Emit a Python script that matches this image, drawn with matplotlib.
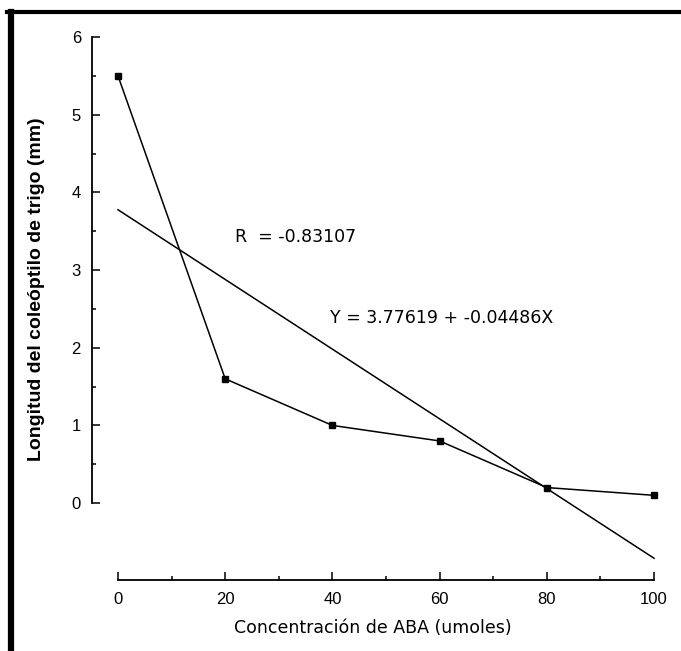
import matplotlib.pyplot as plt
from matplotlib.lines import Line2D

aba = [0, 20, 40, 60, 80, 100]
longitud = [5.5, 1.6, 1.0, 0.8, 0.2, 0.1]
intercept = 3.77619
slope = -0.04486
r_value = -0.83107

x_major = [0, 20, 40, 60, 80, 100]
x_minor = [10, 30, 50, 70, 90]
y_major = [0, 1, 2, 3, 4, 5, 6]
y_minor = [0.5, 1.5, 2.5, 3.5, 4.5, 5.5]

plt.rcParams['font.family'] = ['Liberation Sans', 'DejaVu Sans']

fig = plt.figure(figsize=(6.81, 6.51), dpi=100)
ax = fig.add_axes([92 / 681, 71 / 651, (654 - 92) / 681, (580 - 37) / 651])

ax.plot(aba, longitud, color='black', lw=1.1, marker='s', ms=5, clip_on=False)
fit_x = [aba[0], aba[-1]]
fit_y = [intercept + slope * x for x in fit_x]
ax.plot(fit_x, fit_y, color='black', lw=1.1, clip_on=False)

ax.set_xlim(-4.85, 100)
ax.set_ylim(-0.99, 6)
ax.spines['top'].set_visible(False)
ax.spines['right'].set_visible(False)
ax.spines['left'].set_bounds(0, 6)
ax.spines['bottom'].set_bounds(0, 100)
for s in ('left', 'bottom'):
    ax.spines[s].set_linewidth(1.3)

ax.set_xticks(x_major)
ax.set_xticks(x_minor, minor=True)
ax.set_yticks(y_major)
ax.set_yticks(y_minor, minor=True)
ax.tick_params(which='both', direction='in', width=1.1, labelsize=12)
ax.tick_params(which='major', length=6)
ax.tick_params(which='minor', length=3)
ax.tick_params(axis='x', pad=9)
ax.tick_params(axis='y', pad=8)

ax.set_xlabel('Concentración de ABA (umoles)', fontsize=12.5,
              family='DejaVu Sans', labelpad=8)
ax.set_ylabel('Longitud del coleóptilo de trigo (mm)', fontsize=14,
              fontweight='bold')
ax.yaxis.set_label_coords(-0.083, 0.535)

ax.text(21.8, 3.43, 'R  = %.5f' % r_value, fontsize=12.5,
        family='DejaVu Sans', va='center')
ax.text(39.6, 2.38, 'Y = %.5f + %.5fX' % (intercept, slope), fontsize=12.5,
        family='DejaVu Sans', va='center')

# marco negro arriba e izquierda
fig.add_artist(Line2D([7 / 681, 1], [1 - 12 / 651, 1 - 12 / 651], color='black', lw=3))
fig.add_artist(Line2D([11 / 681, 11 / 681], [0, 1 - 12 / 651], color='black', lw=4.5))

fig.savefig('out.png', dpi=100)
